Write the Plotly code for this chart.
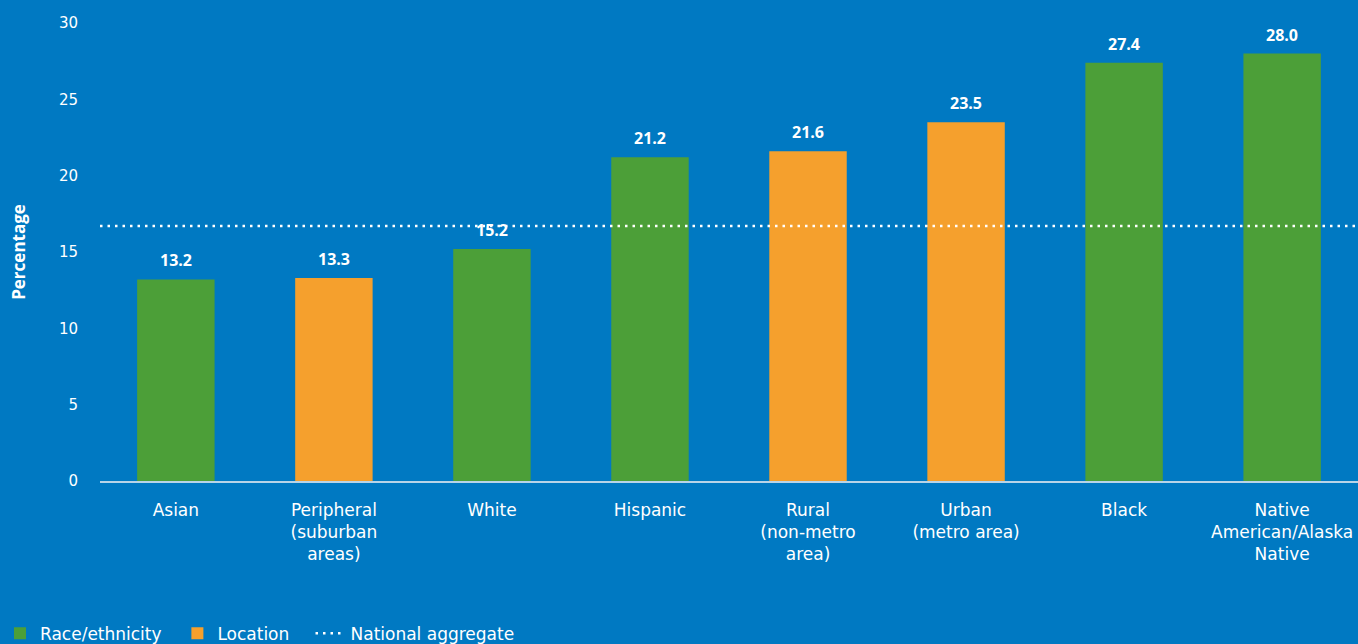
import plotly.graph_objects as go

categories = ["Asian", "Peripheral<br>(suburban<br>areas)", "White", "Hispanic",
              "Rural<br>(non-metro<br>area)", "Urban<br>(metro area)", "Black",
              "Native<br>American/Alaska<br>Native"]
values = [13.2, 13.3, 15.2, 21.2, 21.6, 23.5, 27.4, 28.0]
groups = ["Race/ethnicity", "Location", "Race/ethnicity", "Race/ethnicity",
          "Location", "Location", "Race/ethnicity", "Race/ethnicity"]
national_aggregate = 16.7
y_ticks = [0, 5, 10, 15, 20, 25, 30]

BG = "#0079C2"
GREEN = "#4C9F38"
ORANGE = "#F5A02D"
FONT = "DejaVu Sans"
BOLD_FONT = "Open Sans"
colors = {"Race/ethnicity": GREEN, "Location": ORANGE}
legend_pad = {"Race/ethnicity": "\u00a0\u00a0", "Location": "\u00a0\u00a0\u00a0"}

fig = go.Figure()
for g in ["Race/ethnicity", "Location"]:
    xs = [c for c, gg in zip(categories, groups) if gg == g]
    ys = [v for v, gg in zip(values, groups) if gg == g]
    fig.add_trace(go.Bar(x=xs, y=ys, name=g + legend_pad[g],
                         marker=dict(color=colors[g], line=dict(width=0)),
                         width=0.49, hoverinfo="skip"))

for c, v in zip(categories, values):
    fig.add_annotation(x=c, y=v, text=f"<b>{v:.1f}</b>", showarrow=False,
                       yanchor="bottom", yshift=6,
                       font=dict(family=BOLD_FONT, size=16, color="white"))

fig.add_shape(type="line", xref="paper", x0=0, x1=1, yref="y",
              y0=national_aggregate, y1=national_aggregate,
              line=dict(color="white", width=2.5, dash="2.5px,5px"),
              showlegend=True, name="National aggregate", layer="above")

fig.update_layout(
    width=1358, height=644,
    paper_bgcolor=BG, plot_bgcolor=BG,
    margin=dict(l=100, r=0, t=23, b=163, autoexpand=False),
    barmode="overlay",
    font=dict(family=FONT, size=17, color="white"),
    showlegend=True,
    legend=dict(orientation="h", x=-0.0795, xanchor="left",
                yref="container", y=0.016, yanchor="middle",
                font=dict(family=FONT, size=17, color="white"),
                bgcolor="rgba(0,0,0,0)", itemwidth=30, traceorder="normal"),
    xaxis=dict(type="category", categoryorder="array", categoryarray=categories,
               range=[-0.48, 7.48], showgrid=False, showline=True, automargin=False,
               linecolor="#B8D4E8", linewidth=1.5, ticks="outside", ticklen=13,
               tickcolor=BG, tickfont=dict(family=FONT, size=17, color="white"),
               zeroline=False),
    yaxis=dict(range=[0, 30], tickvals=y_ticks, showgrid=False, zeroline=False,
               showline=False, ticks="", ticklabelstandoff=21, automargin=False,
               tickfont=dict(family=FONT, size=15, color="white"),
               title=dict(text="<b>Percentage</b>", standoff=28,
                          font=dict(family=BOLD_FONT, size=17, color="white"))),
)

fig.write_html("out.html", config={"displayModeBar": False},
               post_script="document.body.style.margin='0';document.body.style.padding='0';")
